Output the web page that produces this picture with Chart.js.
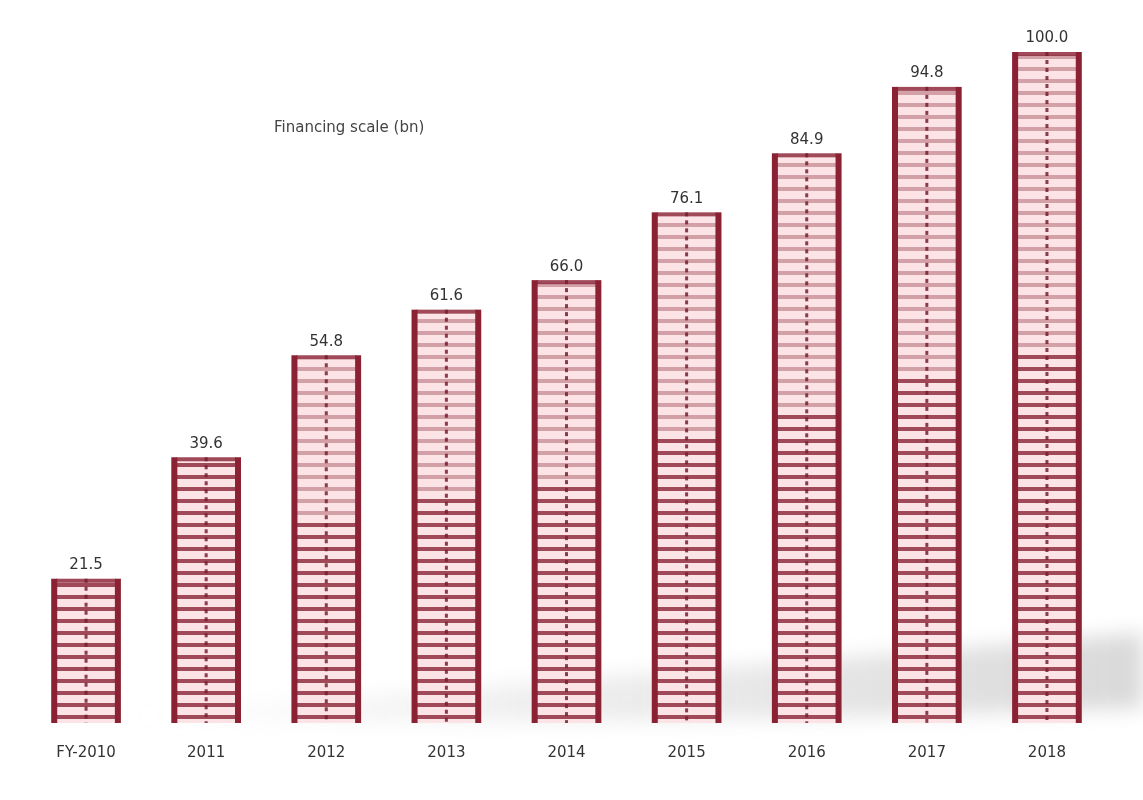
<!DOCTYPE html>
<html>
<head>
<meta charset="utf-8">
<script src="https://cdn.jsdelivr.net/npm/chart.js@4/dist/chart.umd.min.js"></script>
<style>
  html, body { margin: 0; padding: 0; background: #fff; }
  #wrap { width: 1143px; height: 800px; }
</style>
</head>
<body>
<div id="wrap"><canvas id="chart" width="1143" height="800"></canvas></div>
<script>
// --- données ---
const categories = ['FY-2010', '2011', '2012', '2013', '2014', '2015', '2016', '2017', '2018'];
const values = [21.5, 39.6, 54.8, 61.6, 66.0, 76.1, 84.9, 94.8, 100.0];
const titleText = 'Financing scale (bn)';

const dark = '#8a2234';

// ombre grise en fond + barreaux des "échelles"
const ladderPlugin = {
  id: 'ladder',
  beforeDatasetsDraw(chart) {
    const { ctx, chartArea } = chart;
    ctx.save();
    const g = ctx.createLinearGradient(chartArea.left + 100, 0, chart.width, 0);
    g.addColorStop(0, 'rgba(180,180,180,0)');
    g.addColorStop(0.4, 'rgba(180,180,180,0.22)');
    g.addColorStop(1, 'rgba(160,160,160,0.4)');
    ctx.fillStyle = g;
    ctx.filter = 'blur(10px)';
    ctx.beginPath();
    ctx.moveTo(chartArea.left + 110, chartArea.bottom - 10);
    ctx.quadraticCurveTo(600, chartArea.bottom - 45, chart.width, chartArea.bottom - 90);
    ctx.lineTo(chart.width, chartArea.bottom - 15);
    ctx.quadraticCurveTo(600, chartArea.bottom + 4, chartArea.left + 110, chartArea.bottom - 2);
    ctx.closePath();
    ctx.fill();
    ctx.restore();
  },
  afterDatasetsDraw(chart) {
    const { ctx } = chart;
    const meta = chart.getDatasetMeta(0);
    ctx.save();
    meta.data.forEach((bar, i) => {
      const left = bar.x - bar.width / 2;
      const right = bar.x + bar.width / 2;
      const top = bar.y;
      const base = bar.base;
      // barreaux horizontaux
      for (let y = base - 4; y > top + 4; y -= 12) {
        const frac = (base - y) / (base - top);
        ctx.fillStyle = frac > 0.55 && i > 1 ? 'rgba(138,34,52,0.35)' : 'rgba(138,34,52,0.8)';
        ctx.fillRect(left + 5, y - 4, bar.width - 10, 4);
      }
      ctx.fillStyle = 'rgba(138,34,52,0.8)';
      ctx.fillRect(left + 5, top, bar.width - 10, 4);
      // ligne centrale pointillée
      ctx.strokeStyle = 'rgba(120,30,45,0.85)';
      ctx.lineWidth = 3;
      ctx.setLineDash([4, 4]);
      ctx.beginPath();
      ctx.moveTo(bar.x, top);
      ctx.lineTo(bar.x, base);
      ctx.stroke();
      ctx.setLineDash([]);
      // montants
      ctx.fillStyle = dark;
      ctx.fillRect(left, top, 6, base - top);
      ctx.fillRect(right - 6, top, 6, base - top);
      // étiquette de valeur
      ctx.fillStyle = '#333';
      ctx.font = '15px "DejaVu Sans", sans-serif';
      ctx.textAlign = 'center';
      ctx.textBaseline = 'bottom';
      ctx.fillText(values[i].toFixed(1), bar.x, top - 6);
    });
    // titre
    ctx.fillStyle = '#444';
    ctx.font = '15px "DejaVu Sans", sans-serif';
    ctx.textAlign = 'left';
    ctx.textBaseline = 'middle';
    ctx.fillText(titleText, 274, 128);
    ctx.restore();
  }
};

new Chart(document.getElementById('chart'), {
  type: 'bar',
  data: {
    labels: categories,
    datasets: [{
      data: values,
      backgroundColor: '#fbe3e6',
      borderWidth: 0,
      barPercentage: 0.58,
      categoryPercentage: 1
    }]
  },
  options: {
    responsive: false,
    animation: false,
    devicePixelRatio: 1,
    layout: { padding: { top: 52, left: 26, right: 36, bottom: 25 } },
    plugins: { legend: { display: false }, tooltip: { enabled: false } },
    scales: {
      x: {
        grid: { display: false },
        border: { display: false },
        ticks: { color: '#333', font: { size: 15, family: 'DejaVu Sans' }, padding: 13 }
      },
      y: { display: false, min: 0, max: 100 }
    }
  },
  plugins: [ladderPlugin]
});
</script>
</body>
</html>
